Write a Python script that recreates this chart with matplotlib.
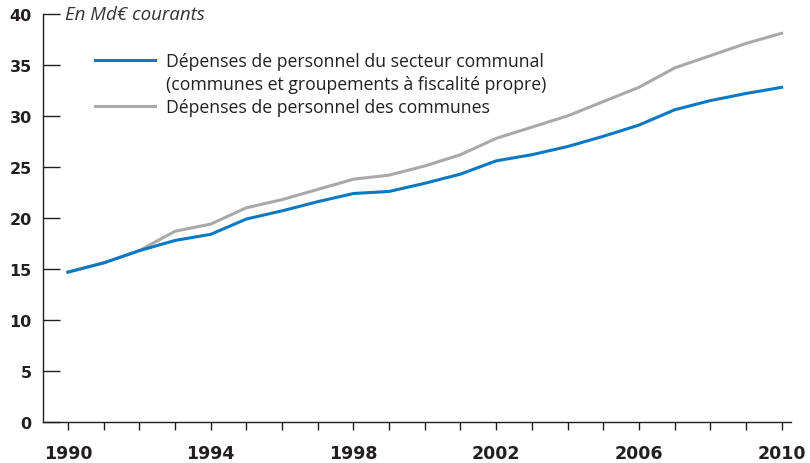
import matplotlib
matplotlib.use("Agg")
import matplotlib.pyplot as plt
from matplotlib.lines import Line2D
from matplotlib.ticker import MultipleLocator

years = list(range(1990, 2011))
secteur_communal = [14.7, 15.6, 16.8, 17.8, 18.4, 19.9, 20.7, 21.6, 22.4, 22.6, 23.4,
                    24.3, 25.6, 26.2, 27.0, 28.0, 29.1, 30.6, 31.5, 32.2, 32.8]
communes = [14.7, 15.6, 16.8, 18.7, 19.4, 21.0, 21.8, 22.8, 23.8, 24.2, 25.1,
            26.2, 27.8, 28.9, 30.0, 31.4, 32.8, 34.7, 35.9, 37.1, 38.1]
label_secteur = ["Dépenses de personnel du secteur communal",
                 "(communes et groupements à fiscalité propre)"]
label_communes = "Dépenses de personnel des communes"
unit_note = "En Md€ courants"

txt = "#231f20"
blue = "#0a78c2"
grey = "#a9a9ab"

plt.rcParams["font.family"] = ["Open Sans", "DejaVu Sans"]

fig = plt.figure(figsize=(8.1, 4.64), dpi=100)
ax = fig.add_axes([0.053, 0.088, 0.923, 0.88])

l1, = ax.plot(years, secteur_communal, color=blue, lw=2.2, zorder=3)
l2, = ax.plot(years, communes, color=grey, lw=2.2, zorder=2)

ax.set_xlim(1989.3, 2010.25)
ax.set_ylim(0, 40)
for s in ("top", "right"):
    ax.spines[s].set_visible(False)
for s in ("left", "bottom"):
    ax.spines[s].set_color(txt)
    ax.spines[s].set_linewidth(1.0)

ax.yaxis.set_major_locator(MultipleLocator(5))
ax.tick_params(axis="y", direction="in", length=12.5, width=1.0, color=txt,
               labelsize=11.5, labelcolor=txt, pad=8)
ax.set_xticks(years[::4])
ax.set_xticks(years, minor=True)
ax.tick_params(axis="x", which="both", direction="out", length=6, width=1.0, color=txt,
               labelsize=12.5, labelcolor=txt, pad=10)
for lab in ax.get_xticklabels() + ax.get_yticklabels():
    lab.set_fontweight("bold")
    lab.set_family(["Liberation Sans Narrow", "DejaVu Sans"])

ax.text(0.029, 1.0, unit_note, transform=ax.transAxes, style="italic", fontsize=13.5,
        color="#333333", va="center", ha="left")

blank = Line2D([], [], color="none")
ax.legend([l1, blank, l2], label_secteur + [label_communes],
          loc="upper left", bbox_to_anchor=(0.0696, 0.907), frameon=False,
          borderpad=0, borderaxespad=0,
          handlelength=3.4, handletextpad=0.6, labelspacing=0.28,
          fontsize=12.7, labelcolor=txt)

fig.savefig("out.png", dpi=100)
